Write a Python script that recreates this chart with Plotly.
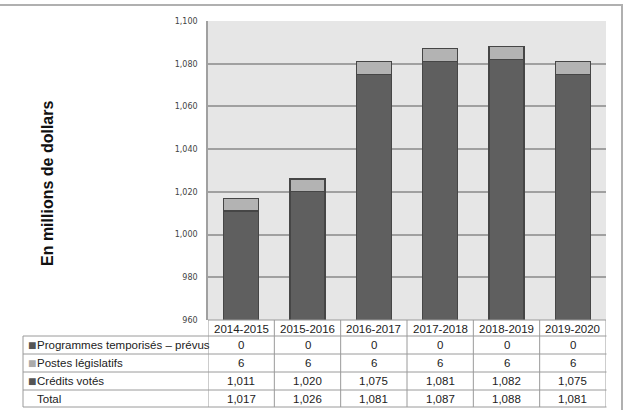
import plotly.graph_objects as go

years = ["2014-2015", "2015-2016", "2016-2017", "2017-2018", "2018-2019", "2019-2020"]
programmes = [0, 0, 0, 0, 0, 0]
postes = [6, 6, 6, 6, 6, 6]
credits = [1011, 1020, 1075, 1081, 1082, 1075]
totals = [1017, 1026, 1081, 1087, 1088, 1081]

row_labels = ["Programmes temporisés – prévus", "Postes législatifs", "Crédits votés", "Total"]
row_values = [programmes, postes, credits, totals]
row_colors = ["#555555", "#aaaaaa", "#555555", None]

W, H = 625, 410
def px(x): return x / W
def py(y): return 1 - y / H

dark = "#5f5f5f"
light = "#b3b3b3"
edge = "#464646"

fig = go.Figure()
fig.add_bar(x=years, y=credits, name="Crédits votés", marker=dict(color=dark, line=dict(color=edge, width=1.2)))
fig.add_bar(x=years, y=postes, name="Postes législatifs", marker=dict(color=light, line=dict(color=edge, width=1.2)))
fig.add_bar(x=years, y=programmes, name="Programmes temporisés – prévus", marker=dict(color=dark, line=dict(width=0)))

fig.update_layout(
    width=W, height=H,
    margin=dict(l=0, r=0, t=0, b=0, autoexpand=False),
    barmode="stack", bargap=0.47,
    showlegend=False,
    paper_bgcolor="white",
    plot_bgcolor="#e6e6e6",
    font=dict(family="Liberation Sans, Arial", color="#222"),
    xaxis=dict(domain=[px(208), px(606)], showticklabels=False, ticks="", showgrid=False,
               zeroline=False, showline=False, range=[-0.5, 5.5], automargin=False),
    yaxis=dict(domain=[py(320), py(21)], range=[960, 1100], dtick=20, tickformat=",d",
               tickfont=dict(family="DejaVu Sans, Verdana", size=8, color="#444"),
               showgrid=True, gridcolor="#a0a0a0", gridwidth=1.5,
               showline=True, linecolor="#a0a0a0", linewidth=1.5,
               zeroline=False, ticks="", ticklabelstandoff=7, automargin=False),
)

shapes = []
line = dict(color="#9a9a9a", width=1)
# outer frame
shapes.append(dict(type="rect", xref="paper", yref="paper", x0=-0.01, x1=px(622), y0=-0.1, y1=py(5),
                   line=dict(color="#b0b0b0", width=2), fillcolor="rgba(0,0,0,0)", layer="below"))
# table horizontal lines
row_ys = [336, 354, 372, 390, 407]
shapes.append(dict(type="line", xref="x", yref="paper", x0=-0.5, x1=5.5, y0=py(320), y1=py(320), line=line))
for yy in row_ys:
    shapes.append(dict(type="line", xref="paper", yref="paper", x0=px(23), x1=px(606.5), y0=py(yy), y1=py(yy), line=line))
# vertical lines
shapes.append(dict(type="line", xref="paper", yref="paper", x0=px(23), x1=px(23), y0=py(336), y1=py(407), line=line))
for i in range(len(years) + 1):
    shapes.append(dict(type="line", xref="x", yref="paper", x0=i - 0.5, x1=i - 0.5, y0=py(320), y1=py(407), line=line))

FS = 11.5
ann = []
# header
for yr in years:
    ann.append(dict(x=yr, y=py(328.5), xref="x", yref="paper", text=yr, showarrow=False,
                    xanchor="center", yanchor="middle", font=dict(size=FS, color="#222")))
centers = [345, 363, 381, 399]
for lab, vals, col, cy in zip(row_labels, row_values, row_colors, centers):
    if col:
        ann.append(dict(x=px(25.5), y=py(cy), xref="paper", yref="paper", text="■", showarrow=False,
                        xanchor="left", yanchor="middle", font=dict(size=14, color=col)))
    ann.append(dict(x=px(35), y=py(cy), xref="paper", yref="paper", text=lab, showarrow=False,
                    xanchor="left", yanchor="middle", font=dict(size=FS, color="#222")))
    for yr, v in zip(years, vals):
        ann.append(dict(x=yr, y=py(cy), xref="x", yref="paper", text=f"{v:,}", showarrow=False,
                        xanchor="center", yanchor="middle", font=dict(size=FS, color="#222")))
# y title
ann.append(dict(x=px(48), y=py(183), xref="paper", yref="paper", text="<b>En millions de dollars</b>",
                textangle=-90, showarrow=False, xanchor="center", yanchor="middle",
                font=dict(size=16, color="#111", family="Liberation Sans, Arial")))

fig.update_layout(shapes=shapes, annotations=ann)
fig.write_html("out.html")
